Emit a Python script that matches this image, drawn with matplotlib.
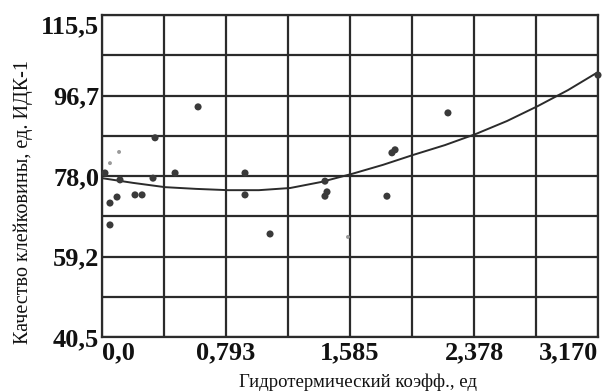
import matplotlib
matplotlib.use('Agg')
import matplotlib.pyplot as plt
import numpy as np

# ---- data ---- #

# scattered observations (hydrothermal coefficient, gluten quality)
obs_x = [0.339, 0.019, 0.115, 0.211, 0.256, 0.326, 0.467, 0.914, 0.914,
         0.051, 0.096, 0.051, 0.614, 1.873, 1.853, 1.425, 1.438, 1.425,
         1.821, 1.074, 2.211, 3.170]
obs_y = [86.9, 78.7, 77.1, 73.6, 73.6, 77.5, 78.7, 78.7, 73.6,
         71.7, 73.1, 66.6, 94.1, 84.1, 83.4, 76.8, 74.3, 73.3,
         73.3, 64.5, 92.7, 101.5]

# faint small specks
faint_x = [0.109, 0.051, 1.572]
faint_y = [83.6, 81.0, 63.8]

# trend curve as drawn on the chart
trend_x = [0.0, 0.198, 0.403, 0.601, 0.805, 1.003, 1.202, 1.400, 1.598,
           1.796, 1.988, 2.192, 2.390, 2.588, 2.786, 2.978, 3.170]
trend_y = [77.5, 76.4, 75.4, 75.0, 74.7, 74.7, 75.2, 76.6, 78.5,
           80.6, 82.9, 85.2, 87.8, 90.8, 94.3, 98.0, 102.2]

x_ticks = [0.0, 0.793, 1.585, 2.378, 3.170]
x_labels = ['0,0', '0,793', '1,585', '2,378', '3,170']
y_ticks = [40.5, 59.2, 78.0, 96.7, 115.5]
y_labels = ['40,5', '59,2', '78,0', '96,7', '115,5']

x_label = 'Гидротермический коэфф., ед'
y_label = 'Качество клейковины, ед. ИДК-1'

# ---- plotting ---- #

ink = '#2b2b2b'
fig = plt.figure(figsize=(6.05, 3.92), dpi=100)
ax = fig.add_axes([102 / 605, 55 / 392, 496 / 605, 322 / 392])

ax.set_xlim(0.0, 3.170)
ax.set_ylim(40.5, 115.5)

ax.set_xticks(x_ticks)
ax.set_xticks([(a + b) / 2 for a, b in zip(x_ticks[:-1], x_ticks[1:])], minor=True)
ax.set_yticks(y_ticks)
ax.set_yticks([(a + b) / 2 for a, b in zip(y_ticks[:-1], y_ticks[1:])], minor=True)
ax.grid(True, which='both', color=ink, lw=1.6)
ax.set_axisbelow(True)

ax.set_xticklabels(x_labels, family='Liberation Serif', weight='bold', fontsize=19)
ax.set_yticklabels(y_labels, family='Liberation Serif', weight='bold', fontsize=19)
ax.tick_params(which='both', length=0, colors='#111111')
ax.tick_params(axis='x', pad=3)
ax.tick_params(axis='y', pad=2)
xt = ax.get_xticklabels()
xt[0].set_ha('left')
xt[-1].set_ha('right')
yt = ax.get_yticklabels()
yt[-1].set_va('top')

for side in ax.spines.values():
    side.set_color(ink)
    side.set_linewidth(1.6)

ax.plot(trend_x, trend_y, color=ink, lw=1.4, zorder=3)
ax.scatter(obs_x, obs_y, s=26, color='#3a3a3a', edgecolors='none', zorder=4, clip_on=False)
ax.scatter(faint_x, faint_y, s=8, color='#9a9a9a', edgecolors='none', zorder=4)

fig.text(358 / 605, 1 - 382 / 392, x_label, ha='center', va='center',
         family='Liberation Serif', fontsize=13.5, color='#111111')
fig.text(23 / 605, 1 - 202 / 392, y_label, ha='center', va='center', rotation=90,
         family='Liberation Serif', fontsize=14.5, color='#111111')

fig.savefig('out.png', dpi=100, facecolor='white')
